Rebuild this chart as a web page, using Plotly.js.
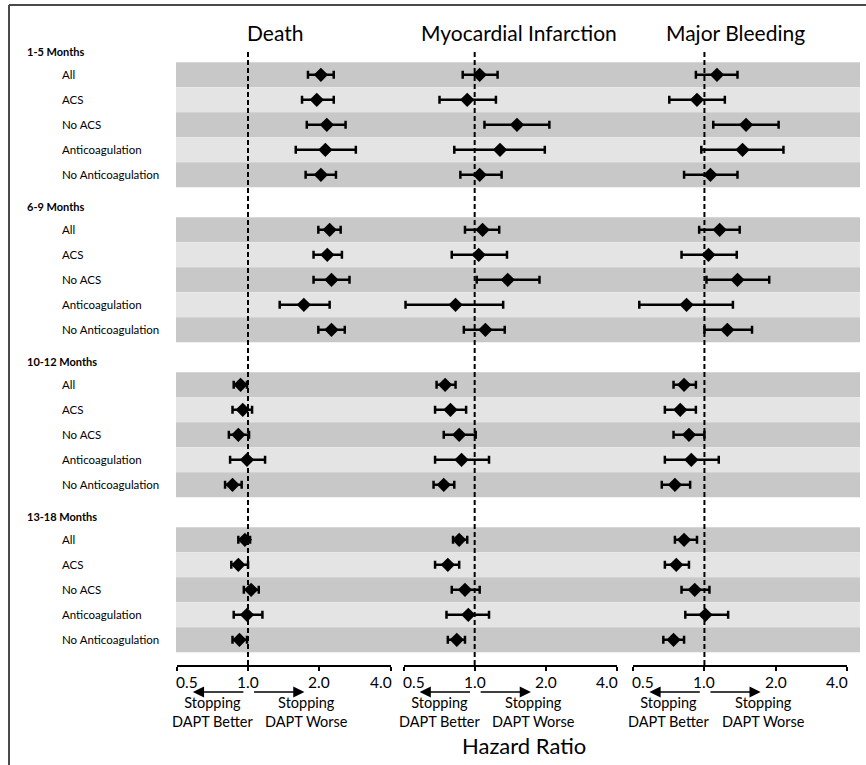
<!DOCTYPE html>
<html>
<head>
<meta charset="utf-8">
<script src="https://cdn.plot.ly/plotly-3.0.1.min.js"></script>
<style>
  html, body { margin: 0; padding: 0; background: #ffffff; }
  #chart { width: 866px; height: 765px; }
</style>
</head>
<body>
<div id="chart"></div>
<script>
// ---------------- DATA ----------------
const outcomes = ["Death", "Myocardial Infarction", "Major Bleeding"];
const groups = ["1-5 Months", "6-9 Months", "10-12 Months", "13-18 Months"];
const subgroups = ["All", "ACS", "No ACS", "Anticoagulation", "No Anticoagulation"];
const tickValues = [0.5, 1.0, 2.0, 4.0];
const tickLabels = ["0.5", "1.0", "2.0", "4.0"];
const referenceHR = 1.0;
const betterLabel = "Stopping<br>DAPT Better";
const worseLabel = "Stopping<br>DAPT Worse";
const xAxisTitle = "Hazard Ratio";

// Hazard ratios and 95% CI, ordered group by group (5 subgroups each)
const deathHR = [2.03, 1.95, 2.15, 2.12, 2.03,  2.21, 2.16, 2.25, 1.72, 2.25,  0.93, 0.95, 0.91, 0.99, 0.86,  0.97, 0.91, 1.03, 0.99, 0.92];
const deathLo = [1.79, 1.69, 1.77, 1.59, 1.75,  1.98, 1.89, 1.89, 1.36, 1.98,  0.87, 0.86, 0.83, 0.84, 0.80,  0.91, 0.85, 0.96, 0.87, 0.86];
const deathHi = [2.30, 2.30, 2.58, 2.85, 2.35,  2.46, 2.49, 2.68, 2.21, 2.56,  0.99, 1.04, 1.01, 1.18, 0.94,  1.02, 1.00, 1.11, 1.15, 0.99];

const miHR = [1.05, 0.93, 1.51, 1.28, 1.05,  1.08, 1.04, 1.38, 0.83, 1.11,  0.75, 0.79, 0.86, 0.88, 0.74,  0.86, 0.77, 0.91, 0.94, 0.84];
const miLo = [0.89, 0.71, 1.10, 0.82, 0.87,  0.91, 0.80, 1.02, 0.51, 0.90,  0.69, 0.68, 0.74, 0.68, 0.67,  0.81, 0.68, 0.80, 0.76, 0.77];
const miHi = [1.25, 1.23, 2.07, 1.98, 1.30,  1.27, 1.37, 1.88, 1.32, 1.34,  0.83, 0.92, 1.01, 1.15, 0.82,  0.93, 0.86, 1.05, 1.15, 0.91];

const mbHR = [1.13, 0.93, 1.50, 1.45, 1.06,  1.16, 1.04, 1.38, 0.84, 1.25,  0.82, 0.79, 0.86, 0.88, 0.75,  0.82, 0.76, 0.91, 1.01, 0.74];
const mbLo = [0.92, 0.71, 1.09, 0.97, 0.82,  0.95, 0.80, 1.02, 0.53, 1.00,  0.74, 0.68, 0.74, 0.68, 0.66,  0.75, 0.68, 0.80, 0.83, 0.67];
const mbHi = [1.38, 1.22, 2.06, 2.16, 1.38,  1.41, 1.37, 1.88, 1.32, 1.59,  0.92, 0.92, 1.00, 1.15, 0.87,  0.93, 0.86, 1.05, 1.26, 0.82];

// ---------------- LAYOUT HELPERS ----------------
const W = 866, H = 765;
const px = v => v / W;          // pixel -> paper x
const py = v => 1 - v / H;      // pixel -> paper y
const FONT = "Lato, 'Open Sans', sans-serif";
const GROUP_STEP = 6.2;         // 5 rows + header gap
const rowPos = (g, r) => g * GROUP_STEP + r;
const ROW_PX = 25, ROW0_PX = 74.8;
const pixToPos = p => (p - ROW0_PX) / ROW_PX;

const series = [
  { hr: deathHR, lo: deathLo, hi: deathHi },
  { hr: miHR, lo: miLo, hi: miHi },
  { hr: mbHR, lo: mbLo, hi: mbHi }
];
const domains = [[176.7, 390.7], [403.5, 617.0], [633.3, 846.7]];
const titleCenters = [274.5, 519, 735];
const axNames = ["x", "x2", "x3"];
const yTop = 36, yBottom = 665, dashTop = 52;
const yRange = [pixToPos(yBottom), pixToPos(yTop)];

const ypos = [];
groups.forEach((g, gi) => subgroups.forEach((s, si) => ypos.push(rowPos(gi, si))));

const traces = [];
// dashed reference lines at HR = 1 (one per panel)
axNames.forEach(a => {
  traces.push({
    type: "scatter", mode: "lines",
    x: [referenceHR, referenceHR],
    y: [pixToPos(dashTop), pixToPos(yBottom)],
    xaxis: a, yaxis: "y",
    line: { color: "#000000", width: 2, dash: "5px,3px" },
    hoverinfo: "skip", showlegend: false
  });
});
series.forEach((s, i) => {
  traces.push({
    type: "scatter",
    mode: "markers",
    x: s.hr,
    y: ypos,
    xaxis: axNames[i],
    yaxis: "y",
    marker: { symbol: "diamond", size: 11, color: "#000000" },
    error_x: {
      type: "data", symmetric: false,
      array: s.hr.map((v, k) => s.hi[k] - v),
      arrayminus: s.hr.map((v, k) => v - s.lo[k]),
      color: "#000000", thickness: 2.5, width: 4
    },
    hoverinfo: "skip",
    showlegend: false,
    cliponaxis: false
  });
});

const shapes = [];
// alternating bands
groups.forEach((g, gi) => subgroups.forEach((s, si) => {
  shapes.push({
    type: "rect", layer: "below", xref: "paper", yref: "y",
    x0: px(176), x1: px(860),
    y0: rowPos(gi, si) - 0.5, y1: rowPos(gi, si) + 0.5,
    fillcolor: si % 2 === 0 ? "#c8c8c8" : "#e4e4e4",
    line: { width: 0 }
  });
}));
// outer frame (top and left edges visible)
shapes.push({ type: "line", xref: "paper", yref: "paper", x0: px(9), x1: px(870), y0: py(5), y1: py(5), line: { color: "#4a4a4a", width: 2 } });
shapes.push({ type: "line", xref: "paper", yref: "paper", x0: px(9), x1: px(9), y0: py(5), y1: py(770), line: { color: "#4a4a4a", width: 2 } });

const annotations = [];
// group headers and row labels
groups.forEach((g, gi) => {
  annotations.push({
    xref: "paper", yref: "y", x: px(25), y: rowPos(gi, 0) - 0.92,
    text: "<b>" + g + "</b>", showarrow: false, xanchor: "left", yanchor: "middle",
    font: { family: FONT, size: 11, color: "#000000" }
  });
  subgroups.forEach((s, si) => {
    annotations.push({
      xref: "paper", yref: "y", x: px(59.5), y: rowPos(gi, si),
      text: s, showarrow: false, xanchor: "left", yanchor: "middle",
      font: { family: FONT, size: 11.5, color: "#000000" }
    });
  });
});
// panel titles
outcomes.forEach((o, i) => {
  annotations.push({
    xref: "paper", yref: "paper", x: px(titleCenters[i]), y: py(33),
    text: o, showarrow: false, xanchor: "center", yanchor: "middle",
    font: { family: FONT, size: 21, color: "#000000" }
  });
});
// tick labels, arrows and direction text per panel
axNames.forEach(a => {
  tickValues.forEach((t, k) => {
    annotations.push({
      xref: a, yref: "paper", x: Math.log10(t), y: py(682),
      xshift: k === 0 ? -3 : (k === tickValues.length - 1 ? 3 : 0),
      text: tickLabels[k], showarrow: false,
      xanchor: k === 0 ? "left" : (k === tickValues.length - 1 ? "right" : "center"),
      yanchor: "middle",
      font: { family: FONT, size: 15.5, color: "#000000" }
    });
  });
  annotations.push({
    xref: a, yref: "paper", x: Math.log10(0.585), y: py(692),
    axref: a, ax: Math.log10(0.97), ayref: "pixel", ay: 0,
    text: "", showarrow: true, arrowhead: 2, arrowsize: 1.4, arrowwidth: 1.6, arrowcolor: "#000000"
  });
  annotations.push({
    xref: a, yref: "paper", x: Math.log10(1.73), y: py(692),
    axref: a, ax: Math.log10(1.045), ayref: "pixel", ay: 0,
    text: "", showarrow: true, arrowhead: 2, arrowsize: 1.4, arrowwidth: 1.6, arrowcolor: "#000000"
  });
  annotations.push({
    xref: a, yref: "paper", x: Math.log10(0.71), y: py(712),
    text: betterLabel, showarrow: false, xanchor: "center", yanchor: "middle",
    font: { family: FONT, size: 14.5, color: "#000000" }
  });
  annotations.push({
    xref: a, yref: "paper", x: Math.log10(1.77), y: py(712),
    text: worseLabel, showarrow: false, xanchor: "center", yanchor: "middle",
    font: { family: FONT, size: 14.5, color: "#000000" }
  });
});
annotations.push({
  xref: "paper", yref: "paper", x: px(524), y: py(745),
  text: xAxisTitle, showarrow: false, xanchor: "center", yanchor: "middle",
  font: { family: FONT, size: 22, color: "#000000" }
});

const xaxisBase = d => ({
  type: "log",
  domain: [px(d[0]), px(d[1])],
  range: [Math.log10(0.5), Math.log10(4)],
  anchor: "y",
  showline: true, linecolor: "#000000", linewidth: 2,
  ticks: "outside", ticklen: 4, tickwidth: 2, tickcolor: "#000000",
  tickmode: "array", tickvals: tickValues, showticklabels: false,
  showgrid: false, zeroline: false, fixedrange: true
});

const layout = {
  width: W, height: H,
  margin: { l: 0, r: 0, t: 0, b: 0, pad: 0 },
  paper_bgcolor: "#ffffff", plot_bgcolor: "rgba(0,0,0,0)",
  showlegend: false,
  font: { family: FONT, color: "#000000" },
  xaxis: xaxisBase(domains[0]),
  xaxis2: xaxisBase(domains[1]),
  xaxis3: xaxisBase(domains[2]),
  yaxis: {
    domain: [py(yBottom), py(yTop)],
    range: yRange,
    visible: false, showgrid: false, zeroline: false, fixedrange: true
  },
  shapes: shapes,
  annotations: annotations
};

Plotly.newPlot("chart", traces, layout, { staticPlot: true, displayModeBar: false });
</script>
</body>
</html>
